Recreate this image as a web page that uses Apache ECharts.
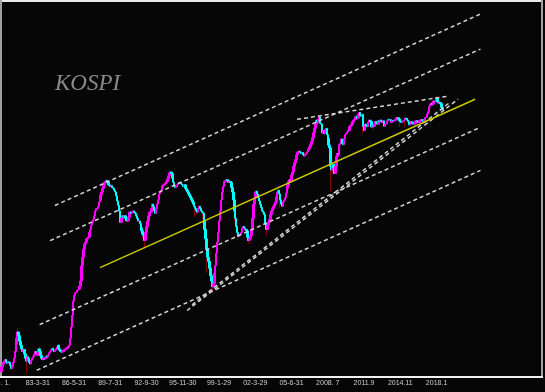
<!DOCTYPE html>
<html><head><meta charset="utf-8">
<script src="https://cdn.jsdelivr.net/npm/echarts@6/dist/echarts.min.js"></script>
<style>html,body{margin:0;padding:0;background:#060606}#c{width:545px;height:392px}</style>
</head><body><div id="c"></div>
<script>
// x-axis tick labels, one every 38 months starting Jan 1980
const tickLabels = ['80. 1.', '83-3-31', '86-5-31', '89-7-31', '92-9-30', '95-11-30', '99-1-29', '02-3-29', '05-6-31', '2008. 7', '2011.9', '2014.11', '2018.1'];
const labelStep = 38;
const startYear = 1980;
const monthSlots = 567;

// monthly closes (KOSPI, log scale), Jan 1980 onwards
const close1980s = [
  106,110,112,114,116,113,111,113,112,108,104,107,
  112,118,128,140,150,162,155,145,138,132,128,131,
  124,118,114,120,118,112,110,115,118,120,124,128,
  124,122,126,132,128,122,118,116,118,117,119,121,
  120,123,126,128,131,133,130,128,130,132,135,138,
  132,130,128,127,128,130,131,132,133,134,136,138,
  150,172,198,235,252,260,262,268,270,272,282,300,
  360,400,440,470,480,500,505,510,540,560,590,610,
  630,660,700,720,720,740,780,800,850,880,920,960,
  990,1000,1010,990,960,950,940,950,930,920,900,880
];
const close1990s = [
  840,790,750,700,650,610,640,660,650,660,640,620,
  620,650,690,690,680,690,700,690,680,660,640,620,
  620,600,570,550,530,520,490,540,580,620,660,690,
  690,720,760,740,700,680,720,760,800,860,880,900,
  930,950,960,970,980,1000,1030,1070,1110,1120,1100,1040,
  990,950,930,940,960,980,990,980,970,960,950,940,
  960,920,900,880,860,840,820,800,780,760,740,720,
  700,690,720,740,720,700,690,680,620,560,500,440,
  400,380,350,320,300,280,290,330,360,420,480,540,
  620,700,800,880,940,990,1000,1010,1020,1010,990,1000
];
const close2000s = [
  988,930,880,800,700,640,580,540,514,520,530,540,
  570,580,570,560,560,550,510,490,500,520,560,640,
  760,820,880,890,860,820,790,760,730,700,690,670,
  600,580,560,590,610,630,670,700,720,740,760,780,
  830,880,900,860,800,760,740,780,800,820,870,920,
  950,1000,1020,1000,1080,1120,1200,1250,1300,1380,1420,1440,
  1440,1420,1400,1420,1380,1360,1380,1400,1430,1460,1480,1520,
  1560,1620,1700,1800,1900,2000,2100,2050,2120,2180,2020,2000,
  1800,1850,1780,1880,1900,1760,1680,1550,1500,1200,1150,1230,
  1180,1100,1200,1350,1400,1390,1560,1590,1670,1580,1560,1680
];
const close2010s = [
  1760,1780,1820,1860,1850,1940,1960,2000,2060,2100,2110,2180,
  2200,2150,2250,2300,2220,2200,2250,1950,1850,2000,1950,1940,
  2040,2100,2090,2060,1930,1960,1950,2010,2060,2030,2000,2080,
  2060,2100,2080,2040,2080,1950,2000,2010,2080,2120,2100,2110,
  2040,2070,2090,2080,2100,2100,2160,2160,2130,2080,2060,2040,
  2060,2080,2100,2150,2140,2100,2060,1980,2000,2060,2040,2020,
  2000,2010,2080,2080,2060,2040,2090,2100,2110,2080,2060,2110,
  2160,2170,2260,2320,2480,2540,2580,2520,2560,2640,2620,2640,
  2760,2620,2580,2600,2560,2450,2400,2380
];
const firstOpen = 100;

// visible (red) wicks: [monthIndex, low, high]
const wicks = [
  [17, 140, 170], [26, 98, 120], [40, 124, 136], [109, 990, 1030], [126, 600, 660],
  [148, 505, 550], [150, 450, 540], [176, 1060, 1150], [203, 650, 740], [205, 670, 700],
  [211, 630, 690], [215, 330, 500], [221, 262, 300], [245, 620, 700], [248, 490, 540],
  [259, 470, 520], [278, 515, 600], [292, 730, 860], [318, 1350, 1420], [333, 2050, 2230],
  [337, 1780, 1900], [345, 890, 1500], [347, 1100, 1250], [379, 1780, 2000], [384, 1920, 2060],
  [390, 1860, 1960], [417, 1930, 2100], [423, 1920, 2150], [456, 2620, 2800], [461, 2300, 2420]
];

// trend lines: [startMonthIndex, startValue, endMonthIndex, endValue]
const channelLines = [
  [56, 748, 502, 7570],
  [51, 489, 502, 4955],
  [40, 177, 502, 1924],
  [37, 102, 502, 1143]
];
const supportLines = [
  [194.5, 210, 478.5, 2703],
  [199.7, 225, 470.2, 2606],
  [309.8, 2119, 467, 2800]
];
const yellowLine = [103.3, 353, 496.4, 2703];

const closes = close1980s.concat(close1990s, close2000s, close2010s);
const candles = closes.map((c, i) => {
  const o = i === 0 ? firstOpen : closes[i - 1];
  return [o, c, Math.min(o, c), Math.max(o, c)];
});
const wickData = closes.map(() => '-');
wicks.forEach(w => { wickData[w[0]] = [w[1], w[2], w[1], w[2]]; });
const cats = [];
for (let i = 0; i < monthSlots; i++) {
  cats.push((startYear + Math.floor(i / 12)) + '-' + (i % 12 + 1));
}

function lineSeries(l, color, dashed) {
  return {
    type: 'line', xAxisIndex: 1, yAxisIndex: 0, silent: true, symbol: 'none', animation: false,
    data: [[l[0], l[1]], [l[2], l[3]]],
    lineStyle: { color: color, width: 1.5, type: dashed ? [4, 3] : 'solid' }
  };
}

const series = [{
  type: 'candlestick', data: wickData, barWidth: 1, animation: false, silent: true,
  itemStyle: { color: '#ff0000', color0: '#ff0000', borderColor: '#ff0000', borderColor0: '#ff0000', borderWidth: 0.5 }
}, {
  type: 'candlestick', data: candles, barWidth: 2, animation: false,
  itemStyle: { color: '#ff00ff', color0: '#00ffff', borderColor: '#ff00ff', borderColor0: '#00ffff', borderWidth: 1 }
}];
channelLines.forEach(l => series.push(lineSeries(l, '#d4d4d4', true)));
supportLines.forEach(l => series.push(lineSeries(l, '#d4d4d4', true)));
series.push(lineSeries(yellowLine, '#c8c800', false));

const chart = echarts.init(document.getElementById('c'));
chart.setOption({
  backgroundColor: '#060606',
  animation: false,
  title: { text: 'KOSPI', left: 50, top: 67, textStyle: { color: '#8a8a8a', fontFamily: '"Liberation Serif", serif', fontStyle: 'italic', fontWeight: 'normal', fontSize: 23 } },
  grid: { left: 1, right: 3, top: 1, bottom: 15, containLabel: false, outerBoundsMode: 'none' },
  xAxis: [{
    type: 'category', data: cats, boundaryGap: true,
    axisLine: { show: false }, axisTick: { show: false }, splitLine: { show: false },
    axisLabel: {
      interval: labelStep - 1, color: '#cfcfcf', fontSize: 7, fontFamily: '"Liberation Sans", Arial', margin: 3,
      formatter: (v, i) => tickLabels[i / labelStep] || ''
    }
  }, {
    type: 'value', min: -0.5, max: monthSlots - 0.5, show: false
  }],
  yAxis: [{
    type: 'log', min: 94, max: 8860, show: false, splitLine: { show: false }
  }],
  graphic: [
    { type: 'rect', shape: { x: 0, y: 0, width: 543, height: 2 }, style: { fill: '#e8e8e8' } },
    { type: 'rect', shape: { x: 0, y: 0, width: 2, height: 378 }, style: { fill: '#a0a0a0' } },
    { type: 'rect', shape: { x: 541, y: 0, width: 2, height: 378 }, style: { fill: '#a0a0a0' } },
    { type: 'rect', shape: { x: 0, y: 376, width: 543, height: 2 }, style: { fill: '#f0f0f0' } }
  ],
  series: series
});
</script></body></html>
